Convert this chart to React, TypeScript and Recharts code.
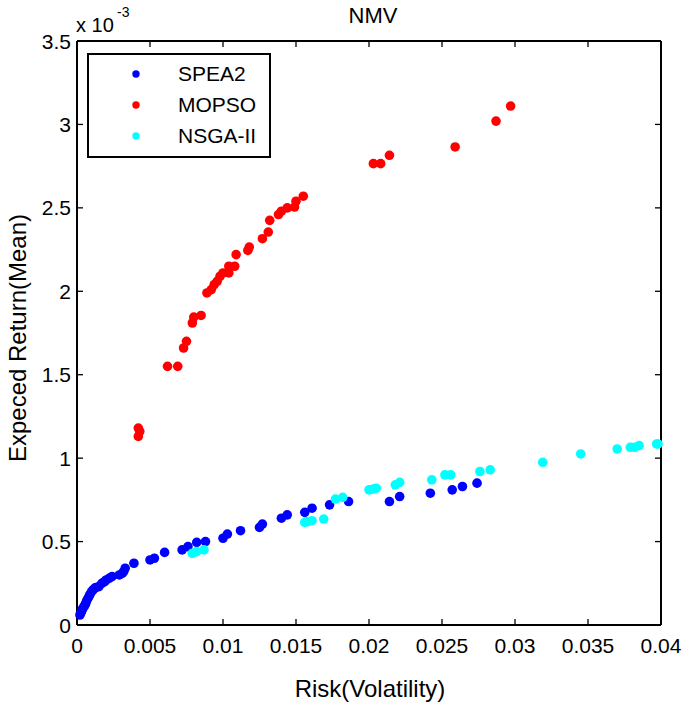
import { ScatterChart, Scatter, XAxis, YAxis, Legend, Label } from 'recharts';

// values; y in units of 1e-3
const spea2X = [0.0002, 0.00025, 0.0003, 0.00035, 0.0004, 0.00048, 0.00055, 0.0006, 0.00066, 0.00075, 0.00084, 0.0009, 0.001, 0.0011, 0.0012, 0.0013, 0.0015, 0.0017, 0.0019, 0.002, 0.0022, 0.0024, 0.0029, 0.0031, 0.0032, 0.0033, 0.0039, 0.005, 0.0053, 0.006, 0.0072, 0.0076, 0.0082, 0.0088, 0.01, 0.0103, 0.0112, 0.0125, 0.0127, 0.014, 0.0144, 0.0156, 0.0161, 0.0173, 0.0186, 0.0214, 0.0221, 0.0242, 0.0257, 0.0264, 0.0274];
const spea2Y = [0.06, 0.07, 0.08, 0.09, 0.1, 0.11, 0.12, 0.13, 0.145, 0.16, 0.175, 0.185, 0.2, 0.21, 0.22, 0.225, 0.23, 0.25, 0.26, 0.27, 0.28, 0.29, 0.3, 0.31, 0.32, 0.34, 0.37, 0.39, 0.4, 0.435, 0.45, 0.47, 0.495, 0.5, 0.52, 0.545, 0.565, 0.585, 0.605, 0.64, 0.66, 0.675, 0.7, 0.72, 0.74, 0.74, 0.77, 0.79, 0.81, 0.83, 0.85];

const mopsoX = [0.0042, 0.0043, 0.0042, 0.0062, 0.0069, 0.0073, 0.0075, 0.0079, 0.008, 0.0085, 0.0089, 0.0092, 0.0094, 0.0096, 0.0098, 0.01, 0.0104, 0.0104, 0.0108, 0.0109, 0.0117, 0.0118, 0.0127, 0.0131, 0.0132, 0.0138, 0.014, 0.0144, 0.0149, 0.015, 0.0155, 0.0203, 0.0208, 0.0214, 0.0259, 0.0287, 0.0297];
const mopsoY = [1.18, 1.16, 1.13, 1.55, 1.55, 1.66, 1.7, 1.81, 1.845, 1.855, 1.99, 2.01, 2.04, 2.06, 2.09, 2.11, 2.11, 2.15, 2.15, 2.22, 2.245, 2.265, 2.315, 2.355, 2.425, 2.46, 2.48, 2.5, 2.505, 2.54, 2.57, 2.765, 2.765, 2.815, 2.865, 3.02, 3.11];

const nsgaX = [0.0079, 0.0082, 0.0087, 0.0156, 0.0158, 0.0161, 0.0169, 0.0177, 0.0182, 0.02, 0.0203, 0.0205, 0.0218, 0.0221, 0.0243, 0.0252, 0.0256, 0.0276, 0.0283, 0.0319, 0.0345, 0.037, 0.0379, 0.0382, 0.0385, 0.0397, 0.0398];
const nsgaY = [0.43, 0.44, 0.45, 0.615, 0.62, 0.625, 0.635, 0.755, 0.765, 0.81, 0.815, 0.82, 0.84, 0.855, 0.87, 0.9, 0.9, 0.92, 0.93, 0.975, 1.025, 1.055, 1.065, 1.065, 1.075, 1.085, 1.085];

const seriesNames = ['SPEA2', 'MOPSO', 'NSGA-II'];
const seriesColors = ['#0000ff', '#ff0000', '#00ffff'];

const xTicks = [0, 0.005, 0.01, 0.015, 0.02, 0.025, 0.03, 0.035, 0.04];
const yTicks = [0, 0.5, 1, 1.5, 2, 2.5, 3, 3.5];

const toPoints = (xs: number[], ys: number[]) => xs.map((x, i) => ({ risk: x, ret: ys[i] }));

const FONT = 'Arial, "Liberation Sans", sans-serif';

const BottomTick = ({ x, y, payload }: any) => (
  <g>
    <line x1={x} y1={y} x2={x} y2={y - 6} stroke="#000" strokeWidth={1.3} />
    <text x={x} y={y + 28} textAnchor="middle" fontSize={21} fill="#000" fontFamily={FONT}>
      {String(payload.value)}
    </text>
  </g>
);

const TopTick = ({ x, y }: any) => (
  <line x1={x} y1={y} x2={x} y2={y + 6} stroke="#000" strokeWidth={1.3} />
);

const LeftTick = ({ x, y, payload }: any) => (
  <g>
    <line x1={x} y1={y} x2={x + 6} y2={y} stroke="#000" strokeWidth={1.3} />
    <text x={x - 6} y={y + 7.5} textAnchor="end" fontSize={21} fill="#000" fontFamily={FONT}>
      {String(payload.value)}
    </text>
  </g>
);

const RightTick = ({ x, y }: any) => (
  <line x1={x} y1={y} x2={x - 6} y2={y} stroke="#000" strokeWidth={1.3} />
);

const Dot = (color: string) => (props: any) => (
  <circle cx={props.cx} cy={props.cy} r={4.8} fill={color} />
);

const renderLegend = () => (
  <div
    style={{
      width: 180,
      height: 98,
      border: '2px solid #000',
      background: '#fff',
      fontFamily: FONT,
      fontSize: 21,
      boxSizing: 'content-box',
      paddingTop: 3,
    }}
  >
    {seriesNames.map((name, i) => (
      <div key={name} style={{ display: 'flex', alignItems: 'center', height: 31 }}>
        <svg width={89} height={20}>
          <circle cx={47} cy={10} r={3.7} fill={seriesColors[i]} />
        </svg>
        <span style={{ color: '#000' }}>{name}</span>
      </div>
    ))}
  </div>
);

// series -> [xAxisId, yAxisId]; all axes share the same domain, the second pair draws the box
const seriesAxes: [string | number, string | number][] = [
  [0, 0],
  ['top', 'right'],
  [0, 0],
];

const App = () => {
  const xs = [spea2X, mopsoX, nsgaX];
  const ys = [spea2Y, mopsoY, nsgaY];
  return (
    <div style={{ position: 'absolute', left: 0, top: 0, background: '#fff' }}>
      <ScatterChart width={685} height={703} margin={{ top: 40, right: 23, bottom: 0, left: 0 }}>
        <XAxis
          dataKey="risk"
          type="number"
          domain={[0, 0.04]}
          ticks={xTicks}
          height={78}
          tickSize={0}
          tickMargin={0}
          tickLine={false}
          tick={<BottomTick />}
          axisLine={{ stroke: '#000', strokeWidth: 2 }}
          interval={0}
        >
          <Label
            content={({ viewBox }: any) => (
              <text
                x={viewBox.x + viewBox.width / 2 + 1}
                y={697}
                textAnchor="middle"
                fontSize={24}
                fontFamily={FONT}
                fill="#000"
              >
                Risk(Volatility)
              </text>
            )}
          />
        </XAxis>
        <XAxis
          xAxisId="top"
          orientation="top"
          dataKey="risk"
          type="number"
          domain={[0, 0.04]}
          ticks={xTicks}
          height={1}
          tickSize={0}
          tickMargin={0}
          tickLine={false}
          tick={<TopTick />}
          axisLine={{ stroke: '#000', strokeWidth: 2 }}
          interval={0}
        >
          <Label
            content={({ viewBox }: any) => (
              <text
                x={viewBox.x + viewBox.width / 2 + 4}
                y={23}
                textAnchor="middle"
                fontSize={22}
                fontFamily={FONT}
                fill="#000"
              >
                NMV
              </text>
            )}
          />
        </XAxis>
        <YAxis
          dataKey="ret"
          type="number"
          domain={[0, 3.5]}
          ticks={yTicks}
          width={77}
          tickSize={0}
          tickMargin={0}
          tickLine={false}
          tick={<LeftTick />}
          axisLine={{ stroke: '#000', strokeWidth: 2 }}
          interval={0}
        >
          <Label
            content={({ viewBox }: any) => {
              const cx = 17;
              const cy = viewBox.y + viewBox.height / 2 + 5;
              return (
                <g>
                  <text
                    x={cx}
                    y={cy}
                    transform={`rotate(-90, ${cx}, ${cy})`}
                    textAnchor="middle"
                    dominantBaseline="central"
                    fontSize={24}
                    fontFamily={FONT}
                    fill="#000"
                  >
                    Expeced Return(Mean)
                  </text>
                  <text x={76} y={32} fontSize={20} fontFamily={FONT} fill="#000">
                    x 10
                  </text>
                  <text x={117} y={17} fontSize={14} fontFamily={FONT} fill="#000">
                    -3
                  </text>
                </g>
              );
            }}
          />
        </YAxis>
        <YAxis
          yAxisId="right"
          orientation="right"
          dataKey="ret"
          type="number"
          domain={[0, 3.5]}
          ticks={yTicks}
          width={1}
          tickSize={0}
          tickMargin={0}
          tickLine={false}
          tick={<RightTick />}
          axisLine={{ stroke: '#000', strokeWidth: 2 }}
          interval={0}
        />
        <Legend
          layout="vertical"
          align="center"
          verticalAlign="middle"
          content={renderLegend}
          wrapperStyle={{ left: 87, top: 53, width: 'auto' }}
        />
        {seriesNames.map((name, i) => (
          <Scatter
            key={name}
            name={name}
            xAxisId={seriesAxes[i][0]}
            yAxisId={seriesAxes[i][1]}
            data={toPoints(xs[i], ys[i])}
            fill={seriesColors[i]}
            shape={Dot(seriesColors[i])}
            isAnimationActive={false}
          />
        ))}
      </ScatterChart>
    </div>
  );
};

export default App;
